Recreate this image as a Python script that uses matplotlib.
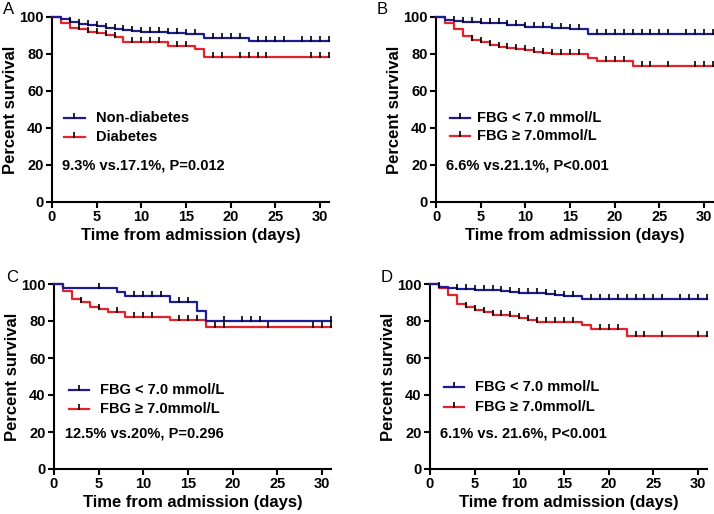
import matplotlib
matplotlib.use('Agg')
import matplotlib.pyplot as plt
from matplotlib.path import Path
import numpy as np

plt.rcParams['font.family'] = ['Liberation Sans', 'DejaVu Sans']

# ---- data: step times / survival (%) and censor times for each panel ----
# A
a_blue_t = [0, 1, 2, 3, 4, 5, 6, 7, 8, 9, 10, 11, 13, 15, 17, 22]
a_blue_s = [100, 99, 97.5, 96.3, 95.5, 95, 94.3, 93.5, 93, 92.6, 92, 91.7, 91.2, 90.7, 88.6, 87.2]
a_blue_c = [2, 3, 4, 5, 6, 7, 8, 9, 10, 11, 12, 13, 14, 15, 16, 18, 19, 20, 21, 23, 24, 25, 26, 28, 29, 30, 31]
a_red_t = [0, 1, 2, 3, 4, 5, 6, 7, 8, 13, 16, 17]
a_red_s = [100, 97, 94.2, 93.3, 91.8, 91.1, 90.4, 89.3, 86.6, 84.2, 82.6, 78.3]
a_red_c = [3, 4, 5, 6, 7, 9, 10, 11, 12, 14, 15, 18, 19, 21, 22, 23, 24, 29, 30, 31]

# B
b_blue_t = [0, 1, 2, 3, 5, 6, 8, 10, 13, 15, 17]
b_blue_s = [100, 98.5, 98, 97.5, 97, 96.5, 95.5, 94.8, 94.2, 93.5, 91]
b_blue_c = [2, 3, 4, 5, 6, 7, 8, 9, 10, 11, 12, 13, 14, 15, 16, 18, 19, 20, 21, 22, 23, 24, 25, 26, 28, 29, 30, 31]
b_red_t = [0, 1, 2, 3, 4, 5, 6, 7, 8, 9, 10, 11, 12, 13, 17, 18, 22]
b_red_s = [100, 97, 93.4, 89.8, 87.6, 86.3, 85, 84, 83, 82.5, 82, 81, 80.5, 80, 77.7, 76.1, 73.3]
b_red_c = [4, 5, 6, 7, 8, 9, 10, 11, 12, 13, 14, 15, 16, 19, 20, 21, 23, 24, 26, 29, 30, 31]

# C
c_blue_t = [0, 1, 7, 8, 13, 16, 17]
c_blue_s = [100, 97.8, 95.6, 93.4, 90.1, 85.3, 79.9]
c_blue_c = [5, 9, 10, 11, 12, 14, 15, 19, 21, 22, 23, 31]
c_red_t = [0, 1, 2, 3, 4, 5, 6, 8, 13, 17]
c_red_s = [100, 96.2, 92, 90.5, 87.8, 86.4, 85.1, 82, 80.5, 76.9]
c_red_c = [3, 5, 7, 9, 10, 11, 14, 15, 16, 18, 19, 24, 29, 30, 31]

# D
d_blue_t = [0, 1, 2, 3, 5, 6, 8, 9, 10, 13, 14, 15, 17]
d_blue_s = [100, 98.6, 98, 97.5, 97, 96.5, 96, 95.5, 95, 94.5, 94, 93.5, 92]
d_blue_c = [1, 3, 4, 5, 6, 7, 8, 9, 10, 11, 12, 13, 14, 15, 16, 18, 19, 20, 21, 22, 23, 24, 25, 26, 28, 29, 30, 31]
d_red_t = [0, 1, 2, 3, 4, 5, 6, 7, 9, 10, 11, 12, 17, 18, 22]
d_red_s = [100, 97.6, 93.8, 89, 87.5, 86.2, 85, 83, 82.5, 81.5, 80.3, 79.5, 77.6, 75.8, 71.8]
d_red_c = [4, 5, 6, 7, 8, 9, 10, 11, 12, 13, 14, 15, 16, 19, 20, 21, 23, 24, 26, 30, 31]

x_ticks = [0, 5, 10, 15, 20, 25, 30]
y_ticks = [0, 20, 40, 60, 80, 100]

BLUE = '#1c1c96'
RED = '#e3222a'
# censor mark: short vertical bar, mostly above the line
tick_mark = Path([(0, -0.3), (0, 1)], [Path.MOVETO, Path.LINETO])


def km(ax, t, s, cens, color):
    ax.step(t + [31], s + [s[-1]], where='post', color=color, lw=1.6, clip_on=False, zorder=3)
    t_arr = np.array(t)
    cy = [s[np.searchsorted(t_arr, c, side='right') - 1] for c in cens]
    ax.plot(cens, cy, ls='none', marker=tick_mark, ms=6.5, mec='black', mew=1.2,
            clip_on=False, zorder=4)


def legend_row(ax, x0, x1, xt, y, color, label):
    ax.plot([x0, x1], [y, y], color=color, lw=1.6, transform=ax.transAxes, clip_on=False)
    ax.plot([(x0 + x1) / 2], [y], ls='none', marker=tick_mark, ms=6.5, mec='black', mew=1.2,
            transform=ax.transAxes, clip_on=False)
    ax.text(xt, y, label, transform=ax.transAxes, va='center', ha='left',
            fontsize=10.5, fontweight='bold')


def style(ax):
    ax.set_xlim(0, 31)
    ax.set_ylim(0, 100)
    ax.set_xticks(x_ticks)
    ax.set_yticks(y_ticks)
    for side in ['top', 'right']:
        ax.spines[side].set_visible(False)
    for side in ['left', 'bottom']:
        ax.spines[side].set_linewidth(1.5)
    ax.tick_params(direction='out', length=4, width=1.5, labelsize=10.5, pad=2)
    for lab in ax.get_xticklabels() + ax.get_yticklabels():
        lab.set_fontweight('bold')
    ax.set_xlabel('Time from admission (days)', fontsize=12, fontweight='bold', labelpad=3)
    ax.set_ylabel('Percent survival', fontsize=12, fontweight='bold', labelpad=1)


fig = plt.figure(figsize=(7.14, 5.14), dpi=100)
W, H = 714, 514

panels = [
    ('A', (52, 202), a_blue_t, a_blue_s, a_blue_c, a_red_t, a_red_s, a_red_c,
     ['Non-diabetes', 'Diabetes'], '9.3% vs.17.1%, P=0.012',
     (0.043, 0.119, 0.16, 0.452, 0.353, 0.036, 0.196), (3, 2)),
    ('B', (436, 202), b_blue_t, b_blue_s, b_blue_c, b_red_t, b_red_s, b_red_c,
     ['FBG < 7.0 mmol/L', 'FBG \u2265 7.0mmol/L'], '6.6% vs.21.1%, P<0.001',
     (0.05, 0.122, 0.148, 0.452, 0.355, 0.036, 0.196), (377, 2)),
    ('C', (54, 469), c_blue_t, c_blue_s, c_blue_c, c_red_t, c_red_s, c_red_c,
     ['FBG < 7.0 mmol/L', 'FBG \u2265 7.0mmol/L'], '12.5% vs.20%, P=0.296',
     (0.054, 0.126, 0.165, 0.428, 0.324, 0.04, 0.19), (6, 270)),
    ('D', (430, 469), d_blue_t, d_blue_s, d_blue_c, d_red_t, d_red_s, d_red_c,
     ['FBG < 7.0 mmol/L', 'FBG \u2265 7.0mmol/L'], '6.1% vs. 21.6%, P<0.001',
     (0.05, 0.122, 0.162, 0.442, 0.337, 0.036, 0.19), (381, 270)),
]

for (letter, (px, py), bt, bs, bc, rt, rs, rc, labels, note, lg, (lx, ly)) in panels:
    ax = fig.add_axes([px / W, 1 - py / H, 277 / W, 185 / H])
    style(ax)
    km(ax, rt, rs, rc, RED)
    km(ax, bt, bs, bc, BLUE)
    x0, x1, xt, y1, y2, xn, yn = lg
    legend_row(ax, x0, x1, xt, y1, BLUE, labels[0])
    legend_row(ax, x0, x1, xt, y2, RED, labels[1])
    ax.text(xn, yn, note, transform=ax.transAxes, va='center', ha='left',
            fontsize=10.5, fontweight='bold')
    fig.text(lx / W, 1 - ly / H, letter, fontsize=12, va='top', ha='left')

fig.savefig('out.png', dpi=100)
